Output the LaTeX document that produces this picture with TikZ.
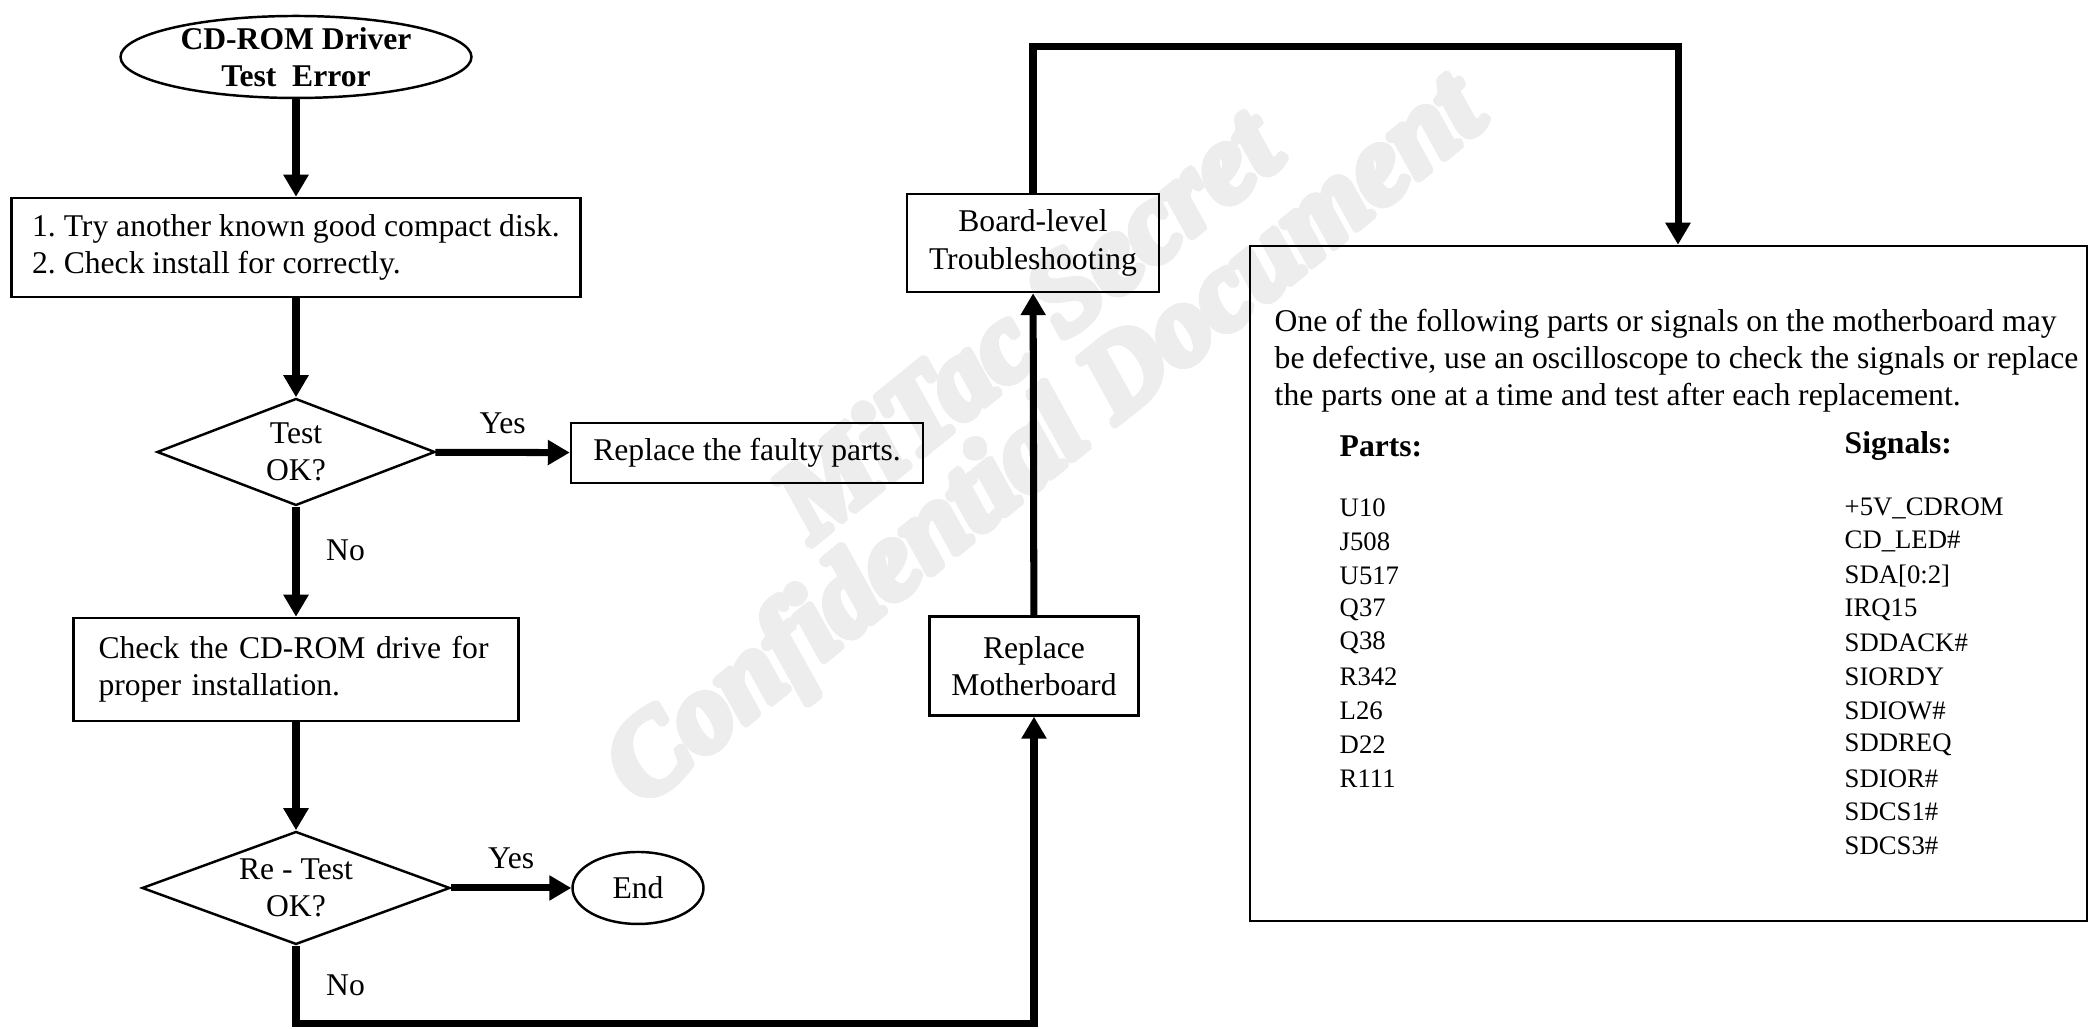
\documentclass[tikz,border=0pt]{standalone}
\usepackage{fontspec}
\setmainfont{Liberation Serif}
\usepackage{contour}
\contourlength{1.1pt}
\contournumber{24}
\usetikzlibrary{shapes.geometric,arrows.meta}

\tikzset{
  flow/.style={line width=2pt, -{Triangle[length=2.2mm,width=2.4mm]}},
  box/.style={draw, line width=0.7pt, minimum height=0.99cm},
  decision/.style={diamond, draw, line width=0.7pt, inner sep=0pt, align=center},
  stamp/.style={text=gray!14, font=\fontsize{32}{36}\selectfont\bfseries\itshape, rotate=39},
  item/.style={anchor=west, inner sep=0pt, font=\fontsize{7.6}{9}\selectfont}
}

\begin{document}
\frenchspacing
\begin{tikzpicture}[font=\fontsize{9}{10.6}\selectfont]
        \useasboundingbox (0,0) rectangle (20.98,10.29);

        % watermark behind everything
        \node[stamp] at (10.27,7.05) {\contour{gray!14}{MiTac Secret}};
        \node[stamp] at (10.50,5.84) {\contour{gray!14}{Confidential Document}};

        % left column
        \node[ellipse, draw, line width=0.7pt, minimum width=3.51cm, minimum height=0.82cm, inner sep=0pt] (start) at (2.96,9.72) {};
        \node[align=center, font=\fontsize{9}{10.6}\selectfont\bfseries] at (start) {CD-ROM Driver\\Test\ \ Error};
        \node[box, minimum width=5.69cm, align=left] (try) at (2.96,7.815) {1. Try another known good compact disk.\\2. Check install for correctly.};
        \node[decision, minimum width=2.78cm, minimum height=1.07cm, shape aspect=2.6] (test) at (2.96,5.77) {Test\\OK?};
        \node[box, minimum width=3.52cm, minimum height=0.60cm] (faulty) at (7.47,5.76) {Replace the faulty parts.};
        \node[box, text width=3.95cm, inner xsep=0.25cm, align=left, minimum height=1.03cm] (check) at (2.96,3.595) {Check the CD-ROM drive for\\proper installation.};
        \node[decision, minimum width=3.08cm, minimum height=1.13cm, shape aspect=2.7] (retest) at (2.96,1.41) {Re - Test\\OK?};
        \node[ellipse, draw, line width=0.7pt, minimum width=1.31cm, minimum height=0.72cm, inner sep=0pt] (end) at (6.38,1.41) {End};

        % middle column
        \node[box, minimum width=2.09cm, align=center] (replace) at (10.34,3.63) {Replace\\Motherboard};
        \node[box, minimum width=2.52cm, minimum height=0.98cm, align=center] (board) at (10.33,7.86) {Board-level\\Troubleshooting};
        \coordinate (lowcorner) at (10.34,0.05);
        \coordinate (topcorner) at (16.78,9.82);

        % right box with parts and signals
        \node[draw, line width=0.7pt, minimum width=8.37cm, minimum height=6.75cm] (hintbox) at (16.685,4.455) {};
        \node[anchor=west, inner sep=0pt, align=left] (intro) at (12.74,6.68) {One of the following parts or signals on the motherboard may\\be defective, use an oscilloscope to check the signals or replace\\the parts one at a time and test after each replacement.};
        \node[anchor=west, inner sep=0pt, font=\fontsize{9}{10.6}\selectfont\bfseries] (partshead) at (13.39,5.83) {Parts:};
        \node[anchor=west, inner sep=0pt, font=\fontsize{9}{10.6}\selectfont\bfseries] (signalshead) at (18.44,5.83) {Signals:};
        \foreach \part [count=\i] in {U10, J508, U517, Q37, Q38, R342, L26, D22, R111}
            \node[item] (p\i) at (13.39,5.21-0.338*\i+0.338) {\part};
        \foreach \sig [count=\i] in {+5V\_CDROM, CD\_LED\#, {SDA[0:2]}, IRQ15, SDDACK\#, SIORDY, SDIOW\#, SDDREQ, SDIOR\#, SDCS1\#, SDCS3\#}
            \node[item] (s\i) at (18.44,5.21-0.338*\i+0.338) {\sig};

        % connectors
        \draw[flow] (start) -- (try);
        \draw[flow] (try) -- (test);
        \draw[flow] (test) -- node[above=1pt] {Yes} (faulty);
        \draw[flow] (test) -- node[pos=0.4, right=0.15cm] {No} (check);
        \draw[flow] (check) -- (retest);
        \draw[flow] (retest) -- node[above=1pt] {Yes} (end);
        \draw[flow] (retest.south) |- node[pos=0.25, right=0.15cm] {No} (lowcorner) -- (replace.south);
        \draw[flow] (replace) -- (board);
        \draw[flow] (board.north) |- (topcorner) -- (topcorner |- hintbox.north);
    \end{tikzpicture}
\end{document}
